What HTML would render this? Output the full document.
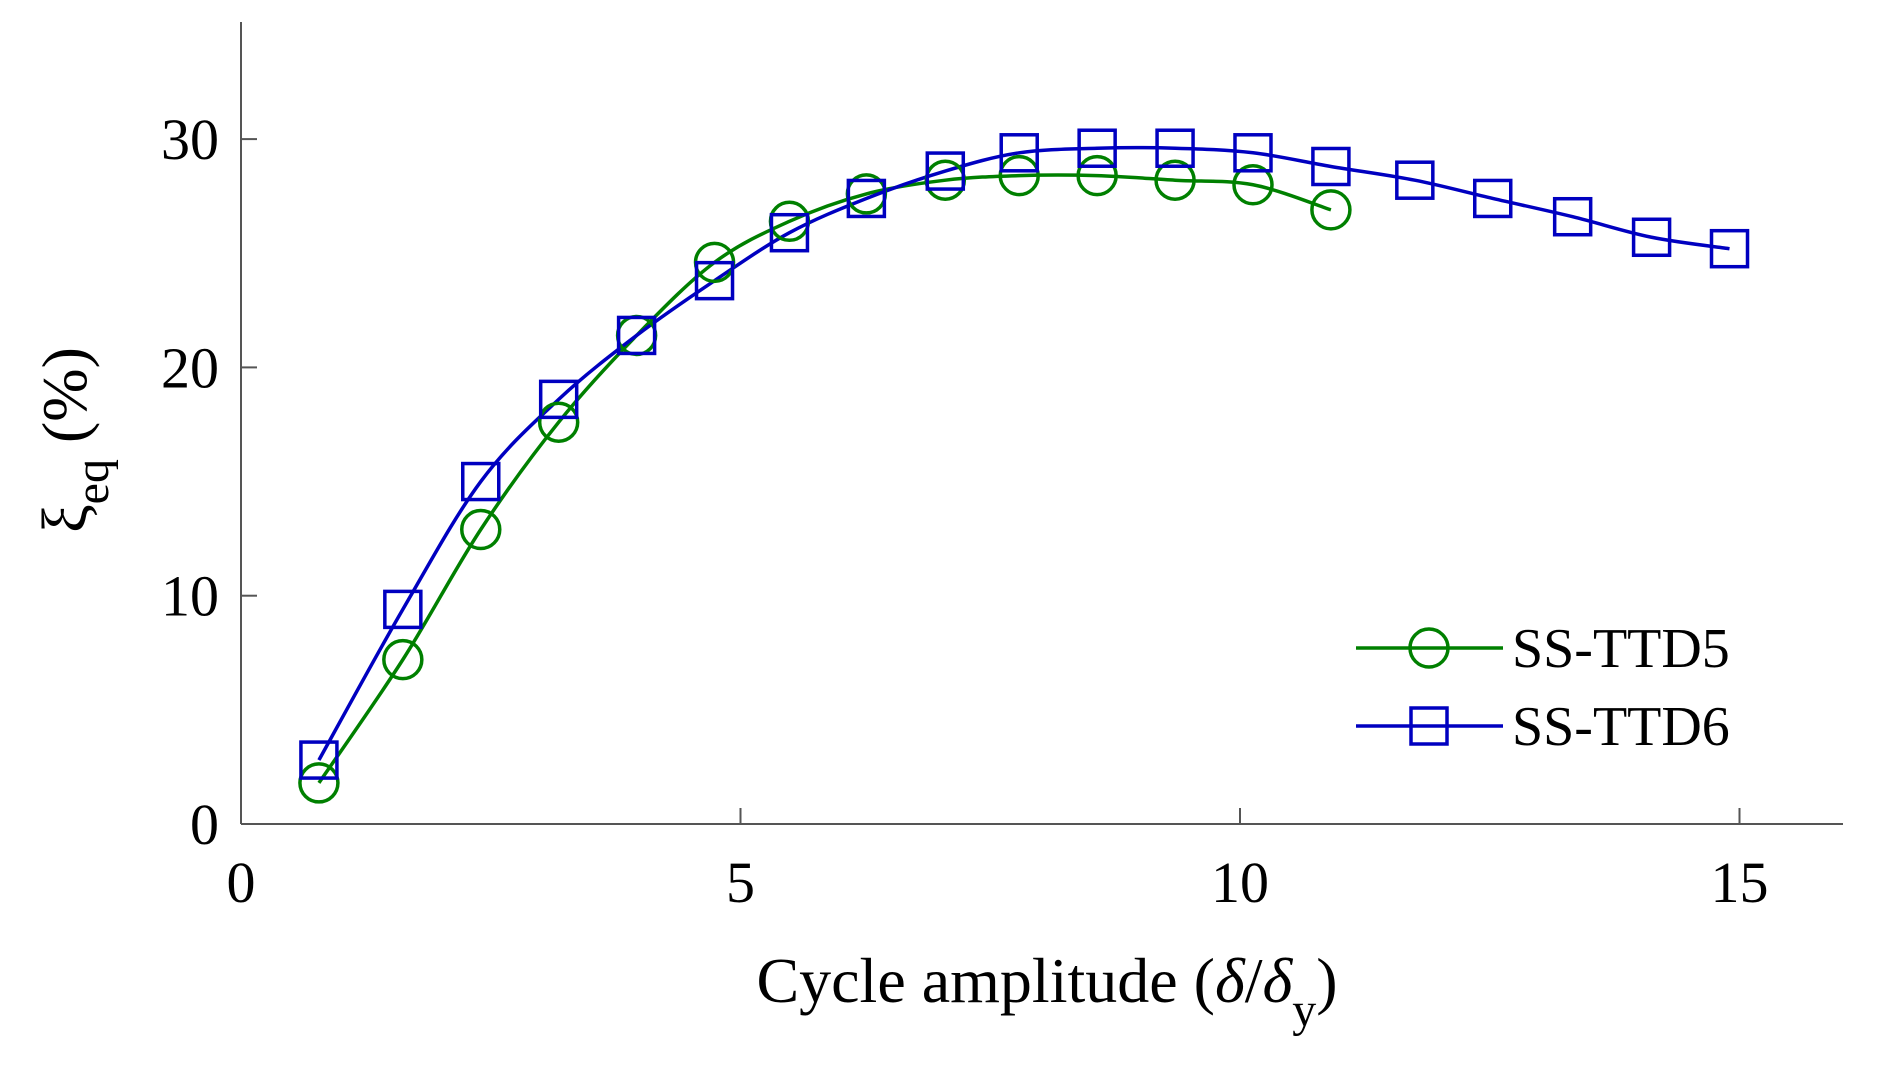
<!DOCTYPE html>
<html><head><meta charset="utf-8"><style>
html,body{margin:0;padding:0;background:#fff;}
svg{display:block;font-family:"Liberation Serif",serif;}
</style></head><body>
<svg id="chart" width="1882" height="1070" viewBox="0 0 1882 1070">
<g id="axes"></g>
<g id="series"></g>
<text x="1047" y="1002" font-size="64" text-anchor="middle">Cycle amplitude (<tspan font-style="italic">δ</tspan>/<tspan font-style="italic">δ</tspan><tspan font-size="48" dy="24">y</tspan><tspan dy="-24">)</tspan></text>
<text transform="translate(86,440) rotate(-90)" font-size="64" text-anchor="middle">ξ<tspan font-size="48" dy="22">eq</tspan><tspan dy="-22"> (%)</tspan></text>
<g>
<line x1="1356" y1="648" x2="1503" y2="648" stroke="#008000" stroke-width="3.5"/>
<circle cx="1429" cy="648" r="19" fill="none" stroke="#008000" stroke-width="3.5"/>
<text x="1512" y="667" font-size="56">SS-TTD5</text>
<line x1="1356" y1="726" x2="1503" y2="726" stroke="#0000c0" stroke-width="3.5"/>
<rect x="1411" y="708" width="36" height="36" fill="none" stroke="#0000c0" stroke-width="3.5"/>
<text x="1512" y="745" font-size="56">SS-TTD6</text>
</g>
</svg>
<script>
const xTicks=[0,5,10,15];
const yTicks=[0,10,20,30];
const xA=[0.78,1.62,2.40,3.18,3.96,4.74,5.49,6.26,7.05,7.79,8.57,9.35,10.13,10.91];
const yA=[1.8,7.2,12.9,17.6,21.4,24.6,26.4,27.6,28.2,28.4,28.4,28.2,28.0,26.9];
const xB=[0.78,1.62,2.40,3.18,3.96,4.74,5.49,6.26,7.05,7.79,8.57,9.35,10.13,10.91,11.75,12.53,13.33,14.12,14.9];
const yB=[2.8,9.4,15.0,18.6,21.4,23.8,25.9,27.4,28.6,29.4,29.6,29.6,29.4,28.8,28.2,27.4,26.6,25.7,25.2];
const NS='http://www.w3.org/2000/svg';
const L=241,R=1843,T=22,B=824;
const sx=v=>L+v*99.9;
const sy=v=>B-v*22.83;
const axes=document.getElementById('axes'),ser=document.getElementById('series');
function mk(t,a,p){const e=document.createElementNS(NS,t);for(const k in a)e.setAttribute(k,a[k]);p.appendChild(e);return e;}
const xl=mk('line',{x1:L,y1:B,x2:R,y2:B,stroke:'#555','stroke-width':2},axes);


const yl=mk('line',{x1:L,y1:B,x2:L,y2:T,stroke:'#555','stroke-width':2},axes);


xTicks.forEach(v=>{
 mk('line',{x1:sx(v),y1:B,x2:sx(v),y2:B-16,stroke:'#555','stroke-width':2},axes);
 const t=mk('text',{x:sx(v),y:B+78,'font-size':58,'text-anchor':'middle'},axes);t.textContent=v;
 
 
});
yTicks.forEach(v=>{
 mk('line',{x1:L,y1:sy(v),x2:L+16,y2:sy(v),stroke:'#555','stroke-width':2},axes);
 const t=mk('text',{x:L-22,y:sy(v)+20,'font-size':58,'text-anchor':'end'},axes);t.textContent=v;
 
 
});
function smooth(xs,ys){
 const p=xs.map((x,i)=>[sx(x),sy(ys[i])]);
 let d='M'+p[0][0]+','+p[0][1];
 for(let i=0;i<p.length-1;i++){
  const p0=p[Math.max(0,i-1)],p1=p[i],p2=p[i+1],p3=p[Math.min(p.length-1,i+2)];
  const c1=[p1[0]+(p2[0]-p0[0])/6,p1[1]+(p2[1]-p0[1])/6];
  const c2=[p2[0]-(p3[0]-p1[0])/6,p2[1]-(p3[1]-p1[1])/6];
  d+=' C'+c1+' '+c2+' '+p2;
 }
 return d;
}
const la=mk('path',{d:smooth(xA,yA),fill:'none',stroke:'#008000','stroke-width':3.5},ser);


const lb=mk('path',{d:smooth(xB,yB),fill:'none',stroke:'#0000c0','stroke-width':3.5},ser);


xA.forEach((x,i)=>{
 const c=mk('circle',{cx:sx(x),cy:sy(yA[i]),r:19,fill:'none',stroke:'#008000','stroke-width':3.5},ser);
 
 
});
xB.forEach((x,i)=>{
 const r=mk('rect',{x:sx(x)-18,y:sy(yB[i])-18,width:36,height:36,fill:'none',stroke:'#0000c0','stroke-width':3.5},ser);
 
 
});
</script>
</body></html>
